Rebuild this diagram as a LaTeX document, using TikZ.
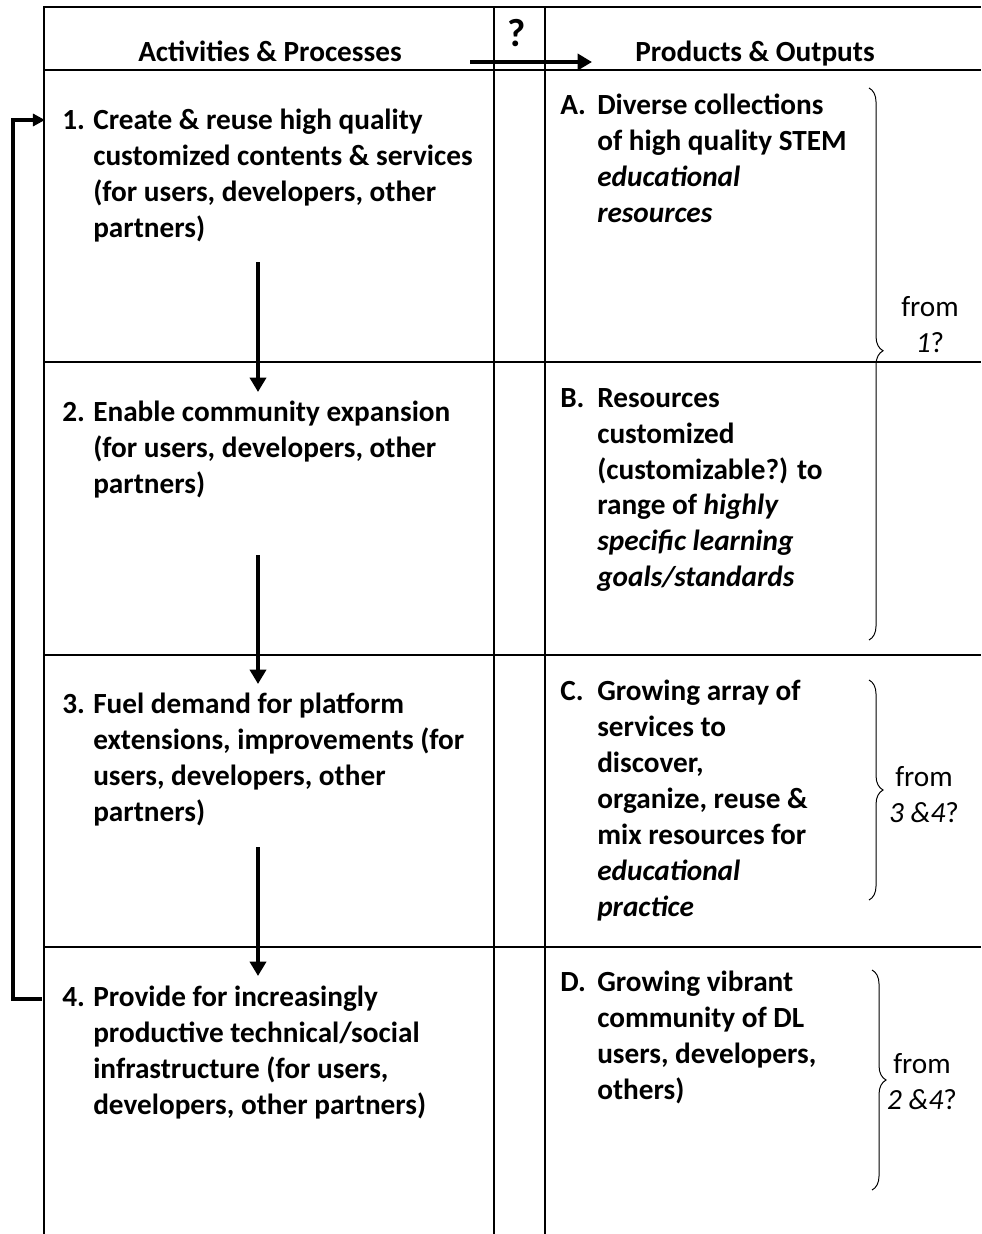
\documentclass[tikz,border=0pt]{standalone}
\usepackage{fontspec}
\setmainfont{Carlito}
\usetikzlibrary{positioning, arrows.meta, decorations.pathreplacing}
% top-aligned block of lines, so that the base anchor sits on the first line
\newcommand{\itemlines}[1]{\begin{tabular}[t]{@{}l@{}}#1\end{tabular}}

\begin{document}
\begin{tikzpicture}[x=0.025cm, y=-0.025cm,
  grid/.style={line width=1.5pt},
  flow/.style={line width=2.8pt, -{Triangle[width=0.4cm, length=0.36cm]}},
  loopback/.style={line width=2.8pt, -{Triangle[width=0.3cm, length=0.3cm]}},
  head/.style={anchor=base, inner sep=0pt, font=\fontsize{20.8}{25.6}\selectfont\bfseries},
  num/.style={anchor=base west, inner sep=0pt, font=\fontsize{20.8}{25.6}\selectfont\bfseries},
  body/.style={anchor=base west, inner sep=0pt,
               font=\fontsize{20.8}{25.6}\selectfont\bfseries},
  src/.style={align=center, inner sep=0pt, font=\fontsize{20.8}{25.6}\selectfont},
  curly/.style={decorate, decoration={brace, amplitude=10pt}, line width=0.7pt},
]
\useasboundingbox (0,0) rectangle (981,1234);
% table rules
\draw[grid] (44,1234) -- (44,7) -- (981,7);
\foreach \y in {70,362,655,947} \draw[grid] (44,\y) -- (981,\y);
\draw[grid] (494,7) -- (494,1234);
\draw[grid] (545,7) -- (545,1234);

% header
\node[head] (acts) at (270,62) {Activities \& Processes};
\node[head] (prods) at (755,62) {Products \& Outputs};
\node[head, font=\fontsize{28}{30}\selectfont\bfseries] (quest) at (517,47) {?};
\coordinate (hs) at (470,62);
\coordinate (he) at (592,62);
\draw[flow] (hs) -- (he);

% activities
\node[num] (n1) at (62,130) {1.};
\node[body] (t1) at (93,130) {\itemlines{Create \& reuse high quality\\customized contents \& services\\(for users, developers, other\\partners)}};
\node[num] (n2) at (62,421) {2.};
\node[body] (t2) at (93,421) {\itemlines{Enable community expansion\\(for users, developers, other\\partners)}};
\node[num] (n3) at (62,713) {3.};
\node[body] (t3) at (93,713) {\itemlines{Fuel demand for platform\\extensions, improvements (for\\users, developers, other\\partners)}};
\node[num] (n4) at (62,1006) {4.};
\node[body] (t4) at (93,1006) {\itemlines{Provide for increasingly\\productive technical/social\\infrastructure (for users,\\developers, other partners)}};

% products
\node[num] (na) at (560,115) {A.};
\node[body] (ta) at (597,115) {\itemlines{Diverse collections\\of high quality STEM\\\textit{educational}\\\textit{resources}}};
\node[num] (nb) at (560,407) {B.};
\node[body] (tb) at (597,407) {\itemlines{Resources\\customized\\(customizable?) to\\range of \textit{highly}\\\textit{specific learning}\\\textit{goals/standards}}};
\node[num] (nc) at (560,700) {C.};
\node[body] (tc) at (597,700) {\itemlines{Growing array of\\services to\\discover,\\organize, reuse \&\\mix resources for\\\textit{educational}\\\textit{practice}}};
\node[num] (nd) at (560,991) {D.};
\node[body] (td) at (597,991) {\itemlines{Growing vibrant\\community of DL\\users, developers,\\others)}};

% flow between activities
\coordinate (a1s) at (258,262);
\coordinate (a1e) at (258,392);
\coordinate (a2s) at (258,555);
\coordinate (a2e) at (258,684);
\coordinate (a3s) at (258,847);
\coordinate (a3e) at (258,976);
\draw[flow] (a1s) -- (a1e);
\draw[flow] (a2s) -- (a2e);
\draw[flow] (a3s) -- (a3e);
\coordinate (back4) at (42,999);
\coordinate (back1) at (45,120);
\draw[loopback] (back4) -- (13,999) |- (back1);

% braces
\draw[curly, decoration={aspect=0.476}] (869,88) -- (869,640);
\node[src] (from1) at (930,325) {from\\\textit{1}?};
\draw[curly] (869,680) -- (869,900);
\node[src] (from34) at (924,795) {from\\\textit{3 \&4}?};
\draw[curly] (872,970) -- (872,1190);
\node[src] (from24) at (922,1082) {from\\\textit{2 \&4}?};
\end{tikzpicture}
\end{document}
